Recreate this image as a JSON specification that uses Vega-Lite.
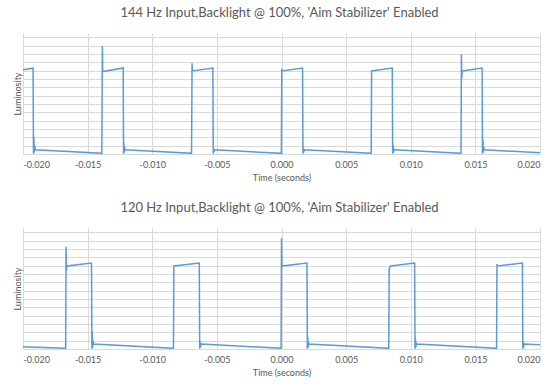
{
  "$schema": "https://vega.github.io/schema/vega-lite/v6.json",
  "autosize": {"type": "none"},
  "padding": {"left": 23, "top": 33, "right": 536, "bottom": 357},
  "background": "white",
  "spacing": 74,
  "bounds": "flush",
  "config": {
    "view": {"stroke": null},
    "font": "Lato",
    "title": {"font": "Lato", "fontSize": 13, "fontWeight": "normal", "color": "#595959", "anchor": "middle", "frame": "group", "baseline": "alphabetic", "offset": 13, "dx": -2},
    "axis": {"gridColor": "#d9d9d9", "gridWidth": 1, "domainColor": "#d9d9d9", "labelFont": "Lato", "labelColor": "#595959", "labelFontSize": 9, "titleFont": "Lato", "titleColor": "#595959", "titleFontSize": 9, "titleFontWeight": "normal", "ticks": false}
  },
  "datasets": {
    "hz144": [
      {"t": -0.02, "v": 10.12}, {"t": -0.01922, "v": 10.3}, {"t": -0.01919, "v": 0.02}, {"t": -0.01916, "v": 2.08}, {"t": -0.01913, "v": 0.2}, {"t": -0.0191, "v": 1.0}, {"t": -0.01906, "v": 0.5},
      {"t": -0.0139, "v": 0.08}, {"t": -0.01386, "v": 12.96}, {"t": -0.01383, "v": 9.9},
      {"t": -0.01225, "v": 10.33}, {"t": -0.01222, "v": 0.02}, {"t": -0.01219, "v": 1.36}, {"t": -0.01216, "v": 0.2}, {"t": -0.01213, "v": 0.8}, {"t": -0.01209, "v": 0.5},
      {"t": -0.00696, "v": 0.08}, {"t": -0.00692, "v": 10.9}, {"t": -0.00689, "v": 9.96},
      {"t": -0.00531, "v": 10.32}, {"t": -0.00528, "v": 0.02}, {"t": -0.00525, "v": 0.68}, {"t": -0.00522, "v": 0.25}, {"t": -0.00518, "v": 0.5},
      {"t": -0.00001, "v": 0.08}, {"t": 0.00002, "v": 10.2}, {"t": 0.00005, "v": 9.96},
      {"t": 0.00163, "v": 10.32}, {"t": 0.00166, "v": 0.02}, {"t": 0.00169, "v": 0.88}, {"t": 0.00172, "v": 0.2}, {"t": 0.00176, "v": 0.5},
      {"t": 0.00694, "v": 0.08}, {"t": 0.00697, "v": 9.96},
      {"t": 0.00857, "v": 10.32}, {"t": 0.0086, "v": 0.02}, {"t": 0.00863, "v": 1.08}, {"t": 0.00866, "v": 0.2}, {"t": 0.00869, "v": 0.6}, {"t": 0.00873, "v": 0.5},
      {"t": 0.01389, "v": 0.08}, {"t": 0.01392, "v": 11.97}, {"t": 0.01395, "v": 9.1}, {"t": 0.01398, "v": 9.96},
      {"t": 0.01552, "v": 10.32}, {"t": 0.01555, "v": 0.02}, {"t": 0.01558, "v": 1.76}, {"t": 0.01561, "v": 0.2}, {"t": 0.01564, "v": 0.9}, {"t": 0.01568, "v": 0.5},
      {"t": 0.02, "v": 0.16}
    ],
    "hz120": [
      {"t": -0.02, "v": 0.28}, {"t": -0.0167, "v": 0.08}, {"t": -0.01667, "v": 12.28}, {"t": -0.01664, "v": 9.4}, {"t": -0.01661, "v": 9.96},
      {"t": -0.0147, "v": 10.32}, {"t": -0.01467, "v": 0.02}, {"t": -0.01464, "v": 2.08}, {"t": -0.01461, "v": 0.2}, {"t": -0.01458, "v": 1.0}, {"t": -0.01454, "v": 0.6},
      {"t": -0.00836, "v": 0.08}, {"t": -0.00833, "v": 9.96},
      {"t": -0.00636, "v": 10.32}, {"t": -0.00633, "v": 0.02}, {"t": -0.0063, "v": 0.88}, {"t": -0.00627, "v": 0.2}, {"t": -0.00624, "v": 0.5}, {"t": -0.0062, "v": 0.6},
      {"t": -0.00003, "v": 0.08}, {"t": 0.0, "v": 13.28}, {"t": 0.00003, "v": 9.84}, {"t": 0.00006, "v": 9.96},
      {"t": 0.00197, "v": 10.32}, {"t": 0.002, "v": 0.02}, {"t": 0.00203, "v": 1.48}, {"t": 0.00206, "v": 0.2}, {"t": 0.00209, "v": 0.8}, {"t": 0.00213, "v": 0.6},
      {"t": 0.0083, "v": 0.08}, {"t": 0.00833, "v": 9.55}, {"t": 0.0084, "v": 9.9}, {"t": 0.00844, "v": 9.96},
      {"t": 0.0103, "v": 10.32}, {"t": 0.01033, "v": 0.02}, {"t": 0.01036, "v": 1.28}, {"t": 0.01039, "v": 0.2}, {"t": 0.01042, "v": 0.7}, {"t": 0.01046, "v": 0.6},
      {"t": 0.01664, "v": 0.08}, {"t": 0.01667, "v": 10.2}, {"t": 0.0167, "v": 9.96},
      {"t": 0.01864, "v": 10.32}, {"t": 0.01867, "v": 0.02}, {"t": 0.0187, "v": 0.88}, {"t": 0.01873, "v": 0.2}, {"t": 0.01876, "v": 0.5}, {"t": 0.0188, "v": 0.6},
      {"t": 0.02, "v": 0.52}
    ]
  },
  "vconcat": [
    {
      "title": "144 Hz Input,Backlight @ 100%, 'Aim Stabilizer' Enabled",
      "width": 517, "height": 121,
      "data": {"name": "hz144"},
      "mark": {"type": "line", "color": "#5b9bd5", "strokeWidth": 1.5, "clip": true},
      "encoding": {
        "x": {"field": "t", "type": "quantitative", "scale": {"domain": [-0.02, 0.02], "nice": false, "zero": false},
              "axis": {"title": "Time (seconds)", "values": [-0.02, -0.015, -0.01, -0.005, 0, 0.005, 0.01, 0.015, 0.02], "labelExpr": "replace(format(datum.value, '.3f'), '\u2212', '-')", "labelPadding": 6, "titlePadding": 4, "grid": true}},
        "y": {"field": "v", "type": "quantitative", "scale": {"domain": [0, 14.52], "nice": false},
              "axis": {"title": "Luminosity", "values": [0, 1, 2, 3, 4, 5, 6, 7, 8, 9, 10, 11, 12, 13, 14], "labels": false, "domain": false, "titlePadding": 1, "minExtent": 0, "grid": true}}
      }
    },
    {
      "title": "120 Hz Input,Backlight @ 100%, 'Aim Stabilizer' Enabled",
      "width": 517, "height": 121,
      "data": {"name": "hz120"},
      "mark": {"type": "line", "color": "#5b9bd5", "strokeWidth": 1.5, "clip": true},
      "encoding": {
        "x": {"field": "t", "type": "quantitative", "scale": {"domain": [-0.02, 0.02], "nice": false, "zero": false},
              "axis": {"title": "Time (seconds)", "values": [-0.02, -0.015, -0.01, -0.005, 0, 0.005, 0.01, 0.015, 0.02], "labelExpr": "replace(format(datum.value, '.3f'), '\u2212', '-')", "labelPadding": 6, "titlePadding": 4, "grid": true}},
        "y": {"field": "v", "type": "quantitative", "scale": {"domain": [0, 14.52], "nice": false},
              "axis": {"title": "Luminosity", "values": [0, 1, 2, 3, 4, 5, 6, 7, 8, 9, 10, 11, 12, 13, 14], "labels": false, "domain": false, "titlePadding": 1, "minExtent": 0, "grid": true}}
      }
    }
  ]
}
